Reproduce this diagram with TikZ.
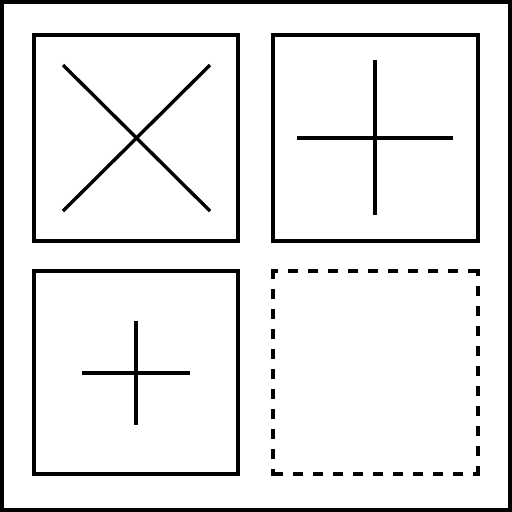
\documentclass[tikz,border=0pt]{standalone}
\begin{document}
\begin{tikzpicture}[x=1pt,y=-1pt,
  boxline/.style={line width=3.4pt},
  markline/.style={line width=3.4pt},
  dashline/.style={line width=3.4pt,line cap=rect,dash pattern=on 7pt off 13pt,dash phase=3.5pt}]
\useasboundingbox (0,0) rectangle (512,512);
\fill[white] (0,0) rectangle (512,512);
\draw[line width=4pt] (2,2) rectangle (510,510);
% top-left box with X
\coordinate (tla) at (34,35); \coordinate (tlb) at (238,241);
\draw[boxline] (tla) rectangle (tlb);
\coordinate (x1) at (63,65); \coordinate (x2) at (210,211);
\coordinate (x3) at (210,65); \coordinate (x4) at (63,211);
\draw[markline] (x1) -- (x2);
\draw[markline] (x3) -- (x4);
% top-right box with large plus
\coordinate (tra) at (273,35); \coordinate (trb) at (478,241);
\draw[boxline] (tra) rectangle (trb);
\coordinate (p1) at (375,60); \coordinate (p2) at (375,215);
\coordinate (p3) at (297,138); \coordinate (p4) at (453,138);
\draw[markline] (p1) -- (p2);
\draw[markline] (p3) -- (p4);
% bottom-left box with small plus
\coordinate (bla) at (34,271); \coordinate (blb) at (238,474);
\draw[boxline] (bla) rectangle (blb);
\coordinate (q1) at (136,321); \coordinate (q2) at (136,425);
\coordinate (q3) at (82,373); \coordinate (q4) at (190,373);
\draw[markline] (q1) -- (q2);
\draw[markline] (q3) -- (q4);
% bottom-right dashed box
\coordinate (d1) at (273,271); \coordinate (d2) at (478,271);
\coordinate (d3) at (478,474); \coordinate (d4) at (273,474);
\draw[dashline] (d1) -- (d2);
\draw[dashline] (d2) -- (d3);
\draw[dashline] (d3) -- (d4);
\draw[dashline] (d4) -- (d1);
\end{tikzpicture}
\end{document}
